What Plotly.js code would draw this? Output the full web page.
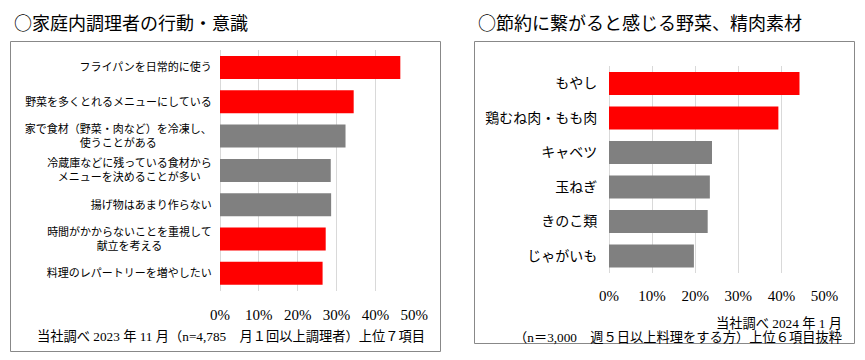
<!DOCTYPE html>
<html><head><meta charset="utf-8">
<script src="https://cdn.plot.ly/plotly-3.0.1.min.js"></script>
<style>html,body{margin:0;padding:0;background:#fff}</style>
</head><body><div id="chart" style="width:865px;height:360px"></div>
<script>
// Left chart: 家庭内調理者の行動・意識
const leftCategories = [
  "フライパンを日常的に使う",
  "野菜を多くとれるメニューにしている",
  "家で食材（野菜・肉など）を冷凍し、<br>使うことがある　　　　　",
  "冷蔵庫などに残っている食材から<br>メニューを決めることが多い　",
  "揚げ物はあまり作らない",
  "時間がかからないことを重視して<br>献立を考える　　　　\u2002",
  "料理のレパートリーを増やしたい"
];
const leftValues = [46.4, 34.4, 32.3, 28.5, 28.6, 27.2, 26.4];
const leftColors = ["#FF0000","#FF0000","#808080","#808080","#808080","#FF0000","#FF0000"];

// Right chart: 節約に繋がると感じる野菜、精肉素材
const rightCategories = ["もやし","鶏むね肉・もも肉","キャベツ","玉ねぎ","きのこ類","じゃがいも"];
const rightValues = [44.2, 39.3, 23.9, 23.4, 22.9, 19.7];
const rightColors = ["#FF0000","#FF0000","#808080","#808080","#808080","#808080"];

const xTickVals = [0,10,20,30,40,50];
const xTickText = ["0%","10%","20%","30%","40%","50%"];

const W = 865, H = 360;
const px = x => x / W;
const py = y => 1 - y / H;

const CJK = "Noto Sans CJK JP, sans-serif";
const SERIF = "Liberation Serif, Noto Sans CJK JP, serif";

const traces = [
  {type:"bar", orientation:"h", y:leftCategories, x:leftValues,
   marker:{color:leftColors}, xaxis:"x", yaxis:"y", hoverinfo:"none"},
  {type:"bar", orientation:"h", y:rightCategories, x:rightValues,
   marker:{color:rightColors}, xaxis:"x2", yaxis:"y2", hoverinfo:"none"}
];

function xa(domain, len){
  return {domain:domain, range:[0,50.05], tickvals:xTickVals, ticktext:xTickText,
    showgrid:true, gridcolor:"#d9d9d9", gridwidth:1, zeroline:true, zerolinecolor:"#d9d9d9",
    showline:false, ticks:"outside", ticklen:len, tickcolor:"rgba(0,0,0,0)",
    tickfont:{family:SERIF, size:15, color:"#000"}, fixedrange:true};
}
function ya(domain, anchor, size, len){
  return {domain:domain, anchor:anchor, autorange:"reversed", showgrid:false, zeroline:false,
    showline:false, ticks:"outside", ticklen:len, tickcolor:"rgba(0,0,0,0)",
    tickfont:{family:CJK, size:size, color:"#000"}, fixedrange:true};
}

const layout = {
  width:W, height:H, margin:{l:0,r:0,t:0,b:0},
  paper_bgcolor:"#fff", plot_bgcolor:"rgba(0,0,0,0)", showlegend:false,
  bargap:0.33,
  xaxis: Object.assign(xa([px(220), px(414.5)], 10), {anchor:"y"}),
  yaxis: ya([py(290.5), py(50.3)], "x", 11, 5),
  xaxis2: Object.assign(xa([px(609), px(824.7)], 9), {anchor:"y2"}),
  yaxis2: ya([py(273.3), py(66.25)], "x2", 14, 8),
  shapes:[
    {type:"rect", xref:"paper", yref:"paper", x0:px(10.5), x1:px(440.5), y0:py(351.5), y1:py(41.5),
     line:{color:"#888888", width:1}, fillcolor:"rgba(0,0,0,0)", layer:"below"},
    {type:"rect", xref:"paper", yref:"paper", x0:px(474.5), x1:px(854.5), y0:py(343.5), y1:py(41.5),
     line:{color:"#888888", width:1}, fillcolor:"rgba(0,0,0,0)", layer:"below"}
  ],
  annotations:[
    {text:"○家庭内調理者の行動・意識", xref:"paper", yref:"paper", x:px(12), y:py(22),
     xanchor:"left", yanchor:"middle", showarrow:false, font:{family:CJK, size:18, color:"#000"}},
    {text:"○節約に繋がると感じる野菜、精肉素材", xref:"paper", yref:"paper", x:px(476), y:py(22),
     xanchor:"left", yanchor:"middle", showarrow:false, font:{family:CJK, size:18, color:"#000"}},
    {text:"当社調べ 2023 年 11 月（n=4,785　月１回以上調理者）上位７項目", xref:"paper", yref:"paper",
     x:px(427), y:py(336), xanchor:"right", yanchor:"middle", showarrow:false,
     font:{family:SERIF, size:13.25, color:"#000"}},
    {text:"当社調べ 2024 年 1 月", xref:"paper", yref:"paper",
     x:px(844), y:py(323), xanchor:"right", yanchor:"middle", showarrow:false,
     font:{family:SERIF, size:13.25, color:"#000"}},
    {text:"（n＝3,000　週５日以上料理をする方）上位６項目抜粋", xref:"paper", yref:"paper",
     x:px(844), y:py(337), xanchor:"right", yanchor:"middle", showarrow:false,
     font:{family:SERIF, size:13.25, color:"#000"}}
  ]
};

Plotly.newPlot("chart", traces, layout, {staticPlot:true, displayModeBar:false});
</script></body></html>
